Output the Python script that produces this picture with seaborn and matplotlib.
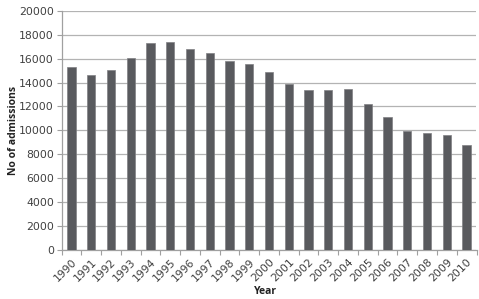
import matplotlib
matplotlib.use("Agg")
import matplotlib.pyplot as plt
import seaborn as sns
import pandas as pd
import numpy as np

years = [str(y) for y in range(1990, 2011)]
admissions = [15300, 14620, 15020, 16050, 17320, 17400, 16820, 16450, 15800, 15570,
              14880, 13870, 13350, 13350, 13430, 12180, 11080, 9950, 9730, 9580, 8740]
yticks = list(range(0, 20001, 2000))

df = pd.DataFrame({"Year": years, "Admissions": admissions})

sns.set_theme(style="white")
plt.rcParams['font.family'] = ['DejaVu Sans']

fig = plt.figure(figsize=(4.79, 2.99), dpi=100)
L, R, T, B = 61.5, 476.5, 11.0, 249.5
ax = fig.add_axes([L / 479, 1 - B / 299, (R - L) / 479, (B - T) / 299])

sns.barplot(data=df, x="Year", y="Admissions", color="#595a5e", width=0.42,
            saturation=1, edgecolor="#808083", linewidth=0.5, ax=ax, zorder=3)

ax.set_ylim(0, 20000)
ax.set_xlim(-0.5, len(years) - 0.5)
ax.set_yticks(yticks)
ax.set_yticklabels([str(t) for t in yticks], fontsize=7.8, color="#404040")
ax.yaxis.grid(True, color="#b3b3b3", linewidth=0.9, zorder=0)
ax.set_axisbelow(True)
ax.tick_params(axis="y", which="major", length=3.5, width=0.8, color="#a0a0a0", left=True, pad=2)

ax.set_xticks(range(len(years)))
ax.set_xticklabels(years, rotation=45, fontsize=7.8, color="#404040", ha="right",
                   rotation_mode="anchor")
ax.tick_params(axis="x", which="major", length=0, pad=5)
ax.set_xticks(np.arange(-0.5, len(years), 1), minor=True)
ax.tick_params(axis="x", which="minor", length=3.5, width=0.8, color="#a0a0a0", bottom=True)

for s in ["top", "right"]:
    ax.spines[s].set_visible(False)
for s in ["left", "bottom"]:
    ax.spines[s].set_color("#a0a0a0")
    ax.spines[s].set_linewidth(0.9)

W, H = R - L, B - T
ax.set_xlabel("Year", fontsize=7.5, fontweight="bold", color="#222222", family="Open Sans")
ax.set_ylabel("No of admissions", fontsize=7.5, fontweight="bold", color="#222222", family="Open Sans")
ax.xaxis.set_label_coords((265 - L) / W, (B - 286) / H)
ax.yaxis.set_label_coords((19 - L) / W, 0.5)

fig.savefig("out.png", dpi=100)
